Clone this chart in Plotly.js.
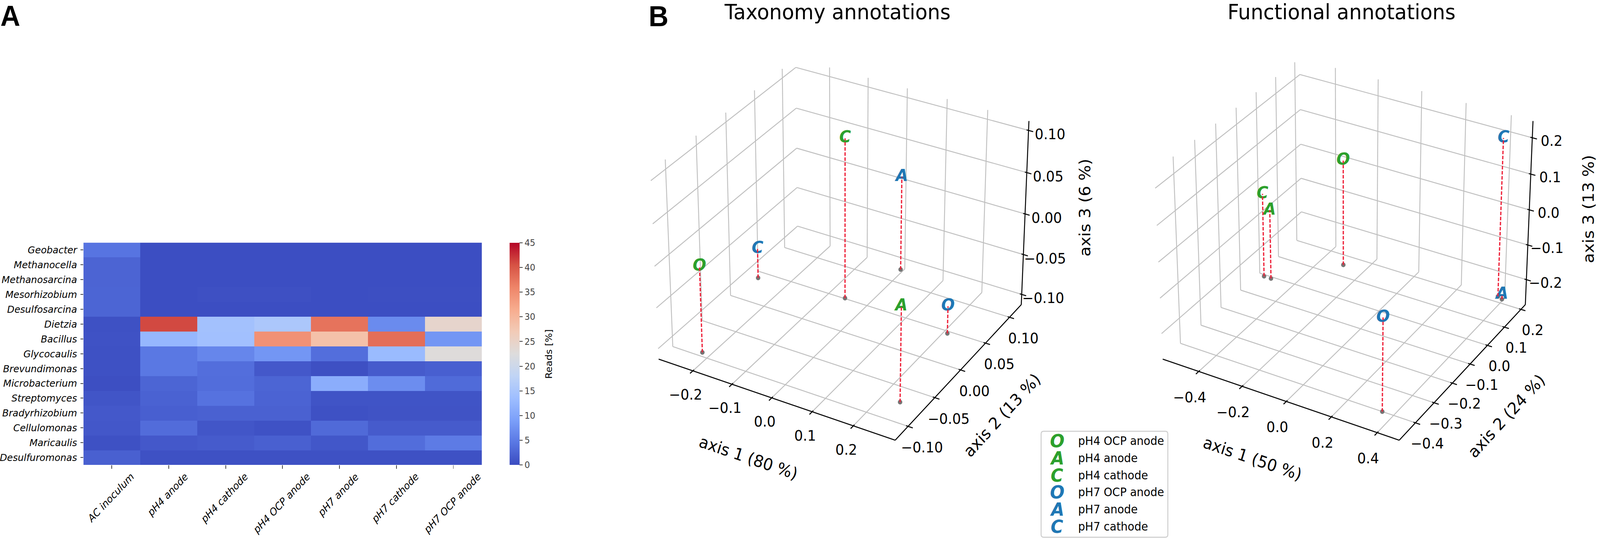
<!DOCTYPE html>
<html><head><meta charset="utf-8">
<script src="https://cdn.plot.ly/plotly-3.0.1.min.js"></script>
<style>html,body{margin:0;padding:0;background:#fff;overflow:hidden}#chart{transform-origin:0 0}</style></head>
<body><div id="chart" style="width:4317px;height:1376px"></div>
<script>
const samples = ['AC inoculum','pH4 anode','pH4 cathode','pH4 OCP anode','pH7 anode','pH7 cathode','pH7 OCP anode'];
const genera = ['Geobacter','Methanocella','Methanosarcina','Mesorhizobium','Desulfosarcina','Dietzia','Bacillus','Glycocaulis','Brevundimonas','Microbacterium','Streptomyces','Bradyrhizobium','Cellulomonas','Maricaulis','Desulfuromonas'];
const reads = [
 [4.2,0.2,0.2,0.2,0.2,0.2,0.2],
 [2.5,0.2,0.2,0.2,0.2,0.2,0.2],
 [2.5,0.2,0.2,0.2,0.2,0.2,0.2],
 [2.6,0.2,0.4,0.4,0.2,0.3,0.3],
 [2.6,0.2,0.2,0.2,0.2,0.2,0.2],
 [0.5,41,14.2,15.3,37.5,6.8,24.5],
 [0.6,12.5,14,34.5,28.5,38,8],
 [0.5,4.6,6.2,8,3.6,13,22.7],
 [0.5,4.6,3.6,1.3,0.4,1.6,2],
 [0.3,2.6,3.5,2.6,11,7,3.2],
 [0.9,2.3,4,2.4,0.8,0.8,0.8],
 [1.3,2,2.2,2.2,0.5,0.7,0.7],
 [1.2,3.4,1,0.6,3.1,1.6,1.6],
 [0.5,1.3,1.6,2.1,1.1,3.5,5],
 [2.1,0.5,0.5,0.5,0.5,0.5,0.5]
];
const cbTicks = [0,5,10,15,20,25,30,35,40,45];
const coolwarm = [[0,'#3b4cc0'],[0.1,'#5977e3'],[0.2,'#7b9ff9'],[0.3,'#9ebeff'],[0.4,'#c0d4f5'],[0.5,'#dddcdc'],[0.6,'#f2cbb7'],[0.7,'#f7ac8e'],[0.8,'#ee8468'],[0.9,'#d65244'],[1,'#b40426']];

const legendNames = ['pH4 OCP anode','pH4 anode','pH4 cathode','pH7 OCP anode','pH7 anode','pH7 cathode'];
const letters = ['O','A','C','O','A','C'];
const pointColors = ['#2ca02c','#2ca02c','#2ca02c','#1f77b4','#1f77b4','#1f77b4'];

const taxAxis1 = [-0.2206,0.2439,-0.0582,0.2095,-0.007,-0.2737];
const taxAxis2 = [-0.0942,-0.0716,0.0508,0.0465,0.122,0.0397];
const taxAxis3 = [-0.0077,0.0015,0.0836,-0.079,0.0042,-0.0757];
const taxTicks1 = [-0.2,-0.1,0,0.1,0.2];
const taxTicks2 = [-0.1,-0.05,0,0.05,0.1];
const taxTicks3 = [-0.1,-0.05,0,0.05,0.1];

const funAxis1 = [-0.30,-0.507,-0.541,0.3508,0.3936,0.37];
const funAxis2 = [0.1538,-0.0079,-0.0076,-0.40,0.2192,0.226];
const funAxis3 = [0.0321,-0.0733,-0.0321,-0.0133,-0.259,0.1786];
const funTicks1 = [-0.4,-0.2,0,0.2,0.4];
const funTicks2 = [-0.4,-0.3,-0.2,-0.1,0,0.1,0.2];
const funTicks3 = [-0.2,-0.1,0,0.1,0.2];

const W=4317,H=1376;
const px=x=>x/W, py=y=>1-y/H;
const F='"DejaVu Sans"';
const traces=[{type:'heatmap',z:reads,x:samples,y:genera,zmin:0,zmax:45,colorscale:coolwarm,xaxis:'x',yaxis:'y',
 colorbar:{x:px(1375),xanchor:'left',xpad:0,ypad:0,y:py(905),yanchor:'middle',lenmode:'pixels',len:568,thickness:27,outlinewidth:0,
  tickvals:cbTicks,ticks:'outside',ticklen:9,tickwidth:2,tickfont:{family:F,size:23}}}];

const ann=samples.map(s=>({xref:'x',yref:'paper',x:s,y:py(1201),yanchor:'top',xanchor:'center',xshift:-3,text:'<i>'+s+'</i>',textangle:-45,showarrow:false,font:{family:F,size:26,color:'#000'}}));

// matplotlib mplot3d view: elevation 30, azimuth -60, box aspect 4:4:3, distance 10
const a=0.5714,c=0.4286,dist=10;
const U=[0.8660,0.5,0],V=[-0.25,0.4330,0.8660],N=[0.4330,-0.75,0.5];
const dot=(A,B)=>A[0]*B[0]+A[1]*B[1]+A[2]*B[2];
function panel(o){
 const {xr,yr,zr,tx,ty,tz}=o;
 const P=(x,y,z)=>{
  const p=[((x-xr[0])/(xr[1]-xr[0])*2-1)*a,((y-yr[0])/(yr[1]-yr[0])*2-1)*a,((z-zr[0])/(zr[1]-zr[0])*2-1)*c];
  const D=dist-dot(p,N);return [dot(p,U)/D,dot(p,V)/D];
 };
 const ln=(arr,A,B)=>{const p=P(...A),q=P(...B);arr.x.push(p[0],q[0],null);arr.y.push(p[1],q[1],null);};
 const g={x:[],y:[]},k={x:[],y:[]};
 const [x0,x1]=xr,[y0,y1]=yr,[z0,z1]=zr,dx=x1-x0,dy=y1-y0;
 tx.forEach(t=>{ln(g,[t,y0,z0],[t,y1,z0]);ln(g,[t,y1,z0],[t,y1,z1]);});
 ty.forEach(t=>{ln(g,[x0,t,z0],[x1,t,z0]);ln(g,[x0,t,z0],[x0,t,z1]);});
 tz.forEach(t=>{ln(g,[x0,y0,t],[x0,y1,t]);ln(g,[x0,y1,t],[x1,y1,t]);});
 ln(k,[x0,y0,z0],[x1,y0,z0]);ln(k,[x1,y0,z0],[x1,y1,z0]);ln(k,[x1,y1,z0],[x1,y1,z1]);
 const inw=0.008,out=0.019;
 tx.forEach(t=>ln(k,[t,y0+inw*dy,z0],[t,y0-out*dy,z0]));
 ty.forEach(t=>ln(k,[x1-inw*dx,t,z0],[x1+out*dx,t,z0]));
 tz.forEach(t=>ln(k,[x1-inw*dx,y1,t],[x1+out*dx,y1,t]));
 const xa=o.xa,ya=o.ya,base={xaxis:xa,yaxis:ya,showlegend:false,hoverinfo:'skip',cliponaxis:false};
 traces.push(Object.assign({type:'scatter',mode:'lines',x:g.x,y:g.y,line:{color:'#bfbfbf',width:2.4}},base));
 traces.push(Object.assign({type:'scatter',mode:'lines',x:k.x,y:k.y,line:{color:'#000',width:2.6}},base));
 const s={x:[],y:[]};
 o.x.forEach((v,i)=>ln(s,[v,o.y[i],z0],[v,o.y[i],o.z[i]]));
 const f=o.x.map((v,i)=>P(v,o.y[i],z0)),t=o.x.map((v,i)=>P(v,o.y[i],o.z[i]));
 traces.push(Object.assign({type:'scatter',mode:'markers',x:f.map(e=>e[0]),y:f.map(e=>e[1]),marker:{color:'#767676',size:12,line:{width:0}}},base));
 traces.push(Object.assign({type:'scatter',mode:'text',x:t.map(e=>e[0]),y:t.map(e=>e[1]),text:letters,textposition:'middle center',
  textfont:{family:F,size:43,weight:700,style:'italic',color:pointColors}},base));
 traces.push(Object.assign({type:'scatter',mode:'lines',x:s.x,y:s.y,line:{color:'#ee2038',width:3.4,dash:'9px,4px'}},base));
 const tl=(pt,txt,sh)=>ann.push({xref:xa,yref:ya,x:pt[0],y:pt[1],text:txt,showarrow:false,xshift:sh[0],yshift:-sh[1],xanchor:'center',yanchor:'middle',font:{family:F,size:37,color:'#000'}});
 const fmt=(v,d)=>(v<0?'\u2212':'')+Math.abs(v).toFixed(d);
 tx.forEach(t=>tl(P(t,y0,z0),fmt(t,1),o.sx));
 ty.forEach(t=>tl(P(x1,t,z0),fmt(t,o.dec),o.sy));
 tz.forEach(t=>tl(P(x1,y1,t),fmt(t,o.dec),o.sz));
 o.titles.forEach(e=>ann.push({xref:'paper',yref:'paper',x:px(e[1]),y:py(e[2]),text:e[0],textangle:e[3],showarrow:false,xanchor:'center',yanchor:'middle',font:{family:F,size:42,color:'#000'}}));
}
panel({xa:'x2',ya:'y2',x:taxAxis1,y:taxAxis2,z:taxAxis3,xr:[-0.289,0.30],yr:[-0.1235,0.125],zr:[-0.113,0.111],tx:taxTicks1,ty:taxTicks2,tz:taxTicks3,dec:2,
 sx:[-19,61],sy:[37,54],sz:[58,10],titles:[['axis 1 (80 %)',2019,1170,18],['axis 2 (13 %)',2703,1062,-46],['axis 3 (6 %)',2927,531,-90]]});
panel({xa:'x3',ya:'y3',x:funAxis1,y:funAxis2,z:funAxis3,xr:[-0.569,0.4945],yr:[-0.4847,0.227],zr:[-0.2732,0.2455],tx:funTicks1,ty:funTicks2,tz:funTicks3,dec:1,
 sx:[-24,66],sy:[32,53],sz:[52,8],titles:[['axis 1 (50 %)',3379,1172,18],['axis 2 (24 %)',4064,1064,-46],['axis 3 (13 %)',4285,535,-90]]});

const T=(x,y,text,size,extra)=>Object.assign({xref:'paper',yref:'paper',x:px(x),y:py(y),text,showarrow:false,font:{family:F,size,color:'#000'},xanchor:'center',yanchor:'middle'},extra||{});
ann.push(T(1481,906,'Reads [%]',25,{textangle:-90}));
ann.push(T(27,40,'<b>A</b>',74,{font:{family:'"Liberation Sans"',size:74,color:'#000'}}));
ann.push(T(1776,41,'<b>B</b>',74,{font:{family:'"Liberation Sans"',size:74,color:'#000'}}));
ann.push(T(2259,30,'Taxonomy annotations',54));
ann.push(T(3619,30,'Functional annotations',54));
legendNames.forEach((n,i)=>{
 const y=1128+i*43.8;
 ann.push(T(2852,y,'<b><i>'+letters[i]+'</i></b>',46,{font:{family:F,size:46,color:pointColors[i]}}));
 ann.push(T(2907,y,n,29.5,{xanchor:'left'}));
});
const S=6400,r0=-0.095,r1=0.09;
const hid={visible:false,range:[r0,r1],fixedrange:true};
const dom=cx=>[px(cx+r0*S),px(cx+r1*S)];
const vd=[py(615-r0*S),py(615-r1*S)];
// rounded legend frame
const lx0=px(2809),lx1=px(3151),ly0=py(1374),ly1=py(1103),rx=px(7),ry=7/H;
const frame=`M ${lx0+rx},${ly1} L ${lx1-rx},${ly1} Q ${lx1},${ly1} ${lx1},${ly1-ry} L ${lx1},${ly0+ry} Q ${lx1},${ly0} ${lx1-rx},${ly0} L ${lx0+rx},${ly0} Q ${lx0},${ly0} ${lx0},${ly0+ry} L ${lx0},${ly1-ry} Q ${lx0},${ly1} ${lx0+rx},${ly1} Z`;
const layout={width:W,height:H,margin:{l:0,r:0,t:0,b:0},paper_bgcolor:'#fff',plot_bgcolor:'rgba(0,0,0,0)',showlegend:false,
 xaxis:{domain:[px(225),px(1306)],anchor:'y',type:'category',showticklabels:false,ticks:'outside',ticklen:9,tickwidth:2,showgrid:false,zeroline:false},
 yaxis:{domain:[py(1189),py(620.5)],anchor:'x',type:'category',autorange:'reversed',ticks:'outside',ticklen:7,tickwidth:2,ticklabelstandoff:4,showgrid:false,zeroline:false,
  tickvals:genera,ticktext:genera.map(g=>'<i>'+g+'</i>'),tickfont:{family:F,size:25.5,color:'#000'}},
 xaxis2:Object.assign({domain:dom(2275),anchor:'y2'},hid),yaxis2:Object.assign({domain:vd,anchor:'x2'},hid),
 xaxis3:Object.assign({domain:dom(3635),anchor:'y3'},hid),yaxis3:Object.assign({domain:vd,anchor:'x3'},hid),
 annotations:ann,
 shapes:[{type:'path',xref:'paper',yref:'paper',path:frame,line:{color:'#cccccc',width:2.5},layer:'below'}]
};
const fit=Math.min(1,window.innerWidth/W);
if(fit<1)document.getElementById('chart').style.transform='scaleX('+fit+')';
Plotly.newPlot('chart',traces,layout,{displayModeBar:false,responsive:false});
</script></body></html>
